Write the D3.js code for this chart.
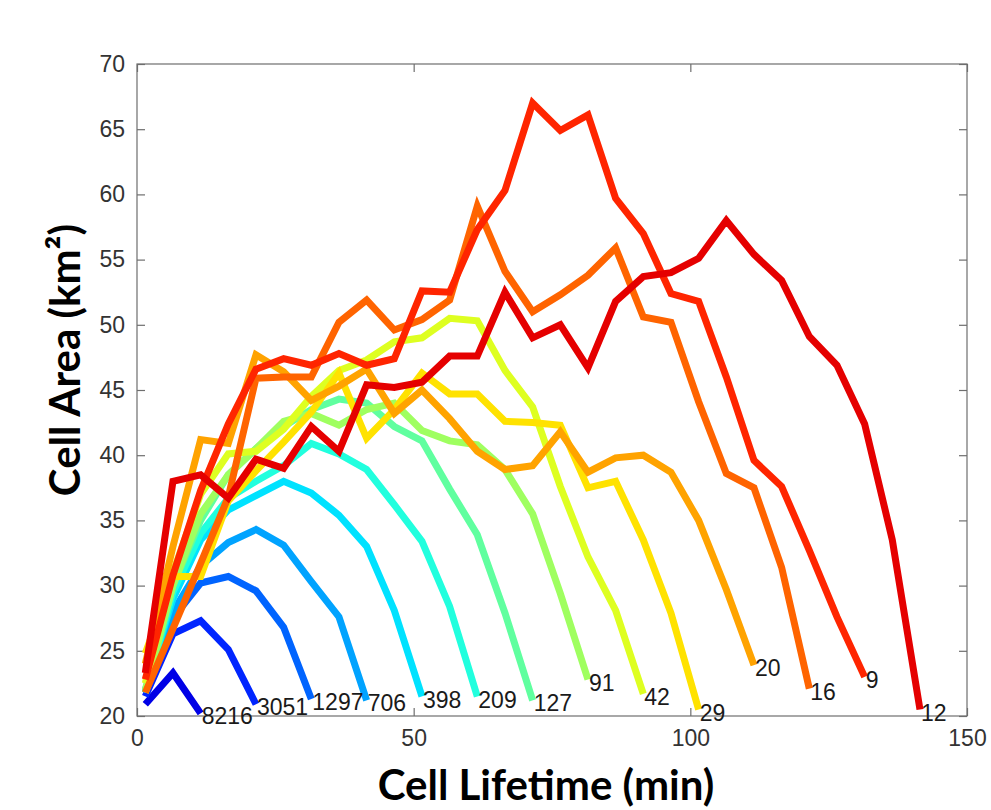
<!DOCTYPE html>
<html>
<head>
<meta charset="utf-8">
<script src="https://cdn.jsdelivr.net/npm/d3@7"></script>
<style>
  body { margin: 0; background: #fff; }
  svg { display: block; }
</style>
</head>
<body>
<div id="chart"></div>
<script>
// lifetimes (min) shared by all series; a series with n points uses the first n
const times = [1.5, 6.5, 11.5, 16.5, 21.5, 26.5, 31.5, 36.5, 41.5, 46.5, 51.5, 56.5, 61.5, 66.5, 71.5,
               76.5, 81.5, 86.5, 91.5, 96.5, 101.5, 106.5, 111.5, 116.5, 121.5, 126.5, 131.5, 136.5, 141.5];

// number of cells in each lifetime class (label at the end of each line)
const counts = ["8216", "3051", "1297", "706", "398", "209", "127", "91", "42", "29", "20", "16", "9", "12"];

// mean cell area (km²) per lifetime class
const area8216 = [20.9, 23.3, 20.2];
const area3051 = [21.5, 26.3, 27.3, 25.1, 20.9];
const area1297 = [21.8, 27.5, 30.2, 30.7, 29.6, 26.8, 21.3];
const area706 = [21.8, 28.0, 31.5, 33.3, 34.3, 33.1, 30.3, 27.6, 21.2];
const area398 = [22.0, 29.0, 33.5, 35.8, 36.9, 38.0, 37.1, 35.4, 33.0, 28.1, 21.5];
const area209 = [21.8, 29.5, 34.0, 36.7, 38.0, 39.2, 40.9, 40.1, 38.9, 36.2, 33.4, 28.4, 21.5];
const area127 = [21.8, 30.0, 35.0, 38.5, 40.5, 42.2, 43.5, 44.3, 44.0, 42.2, 41.1, 37.4, 33.9, 27.9, 21.2];
const area91 = [22.0, 30.0, 35.5, 38.5, 40.5, 42.6, 43.2, 42.3, 43.5, 44.0, 41.9, 41.1, 40.8, 38.9, 35.5, 29.4, 22.8];
const area42 = [22.5, 31.0, 37.0, 40.1, 40.3, 42.0, 44.5, 46.5, 47.3, 48.7, 49.0, 50.5, 50.3, 46.5, 43.7, 37.6, 32.2, 28.1, 21.7];
const area29 = [24.8, 30.7, 30.7, 36.5, 38.8, 41.0, 43.3, 46.3, 41.3, 43.5, 46.3, 44.7, 44.7, 42.6, 42.5, 42.3, 37.5, 38.0, 33.5, 27.9, 20.5];
const area20 = [24.0, 33.0, 41.2, 40.9, 47.7, 46.4, 44.2, 45.3, 46.6, 43.2, 45.0, 42.8, 40.3, 38.9, 39.2, 41.8, 38.7, 39.8, 40.0, 38.7, 35.0, 29.7, 23.9];
const area16 = [21.8, 26.7, 31.7, 36.8, 45.9, 46.0, 46.0, 50.2, 51.9, 49.6, 50.4, 51.9, 59.1, 54.1, 51.0, 52.3, 53.8, 55.9, 50.6, 50.2, 44.1, 38.6, 37.5, 31.4, 22.1];
const area9 = [22.8, 30.8, 37.3, 42.4, 46.6, 47.4, 46.9, 47.8, 46.9, 47.4, 52.6, 52.5, 57.3, 60.3, 67.0, 64.9, 66.1, 59.7, 57.0, 52.4, 51.8, 46.0, 39.6, 37.6, 32.7, 27.6, 23.0];
const area12 = [23.3, 38.0, 38.5, 36.7, 39.7, 39.0, 42.2, 40.3, 45.4, 45.2, 45.6, 47.6, 47.6, 52.5, 49.0, 50.0, 46.7, 51.8, 53.7, 54.0, 55.1, 58.0, 55.4, 53.4, 49.1, 46.9, 42.4, 33.5, 20.5];

const xTicks = [0, 50, 100, 150];
const yTicks = [20, 25, 30, 35, 40, 45, 50, 55, 60, 65, 70];

const areas = [area8216, area3051, area1297, area706, area398, area209, area127,
               area91, area42, area29, area20, area16, area9, area12];

// jet colours, blue -> dark red
const jet = v => {
    const c = f => Math.round(255 * Math.max(0, Math.min(1, f)));
    return d3.rgb(c(1.5 - Math.abs(4 * v - 3)), c(1.5 - Math.abs(4 * v - 2)), c(1.5 - Math.abs(4 * v - 1))).formatHex();
};
const colors = counts.map((d, i) => jet(0.1 + 0.8 * i / (counts.length - 1)));

const W = 991, H = 810;
const margin = {left: 137, right: 24, top: 64, bottom: 94};

const svg = d3.select("#chart").append("svg")
    .attr("width", W)
    .attr("height", H);

svg.append("rect").attr("width", W).attr("height", H).attr("fill", "#fff");

const x = d3.scaleLinear().domain([0, 150]).range([margin.left, W - margin.right]);
const y = d3.scaleLinear().domain([20, 70]).range([H - margin.bottom, margin.top]);

const axisColor = "#6e6e6e";
const tickFont = "Liberation Sans, Arial, sans-serif";

function styleAxis(g) {
    g.select(".domain").remove();
    g.selectAll(".tick line").attr("stroke", axisColor).attr("stroke-width", 1.2);
    g.selectAll(".tick text").attr("fill", "#333")
        .style("font-family", tickFont).style("font-size", "23px");
}

// bottom / left axes with inward ticks
svg.append("g")
    .attr("transform", `translate(0,${y(20)})`)
    .call(d3.axisBottom(x).tickValues(xTicks).tickSizeInner(-8).tickSizeOuter(0).tickPadding(14))
    .call(styleAxis);
svg.append("g")
    .attr("transform", `translate(${x(0)},0)`)
    .call(d3.axisLeft(y).tickValues(yTicks).tickSizeInner(-8).tickSizeOuter(0).tickPadding(12))
    .call(styleAxis);
// top / right ticks only
svg.append("g")
    .attr("transform", `translate(0,${y(70)})`)
    .call(d3.axisTop(x).tickValues(xTicks).tickSizeInner(-8).tickSizeOuter(0).tickFormat(""))
    .call(styleAxis);
svg.append("g")
    .attr("transform", `translate(${x(150)},0)`)
    .call(d3.axisRight(y).tickValues(yTicks).tickSizeInner(-8).tickSizeOuter(0).tickFormat(""))
    .call(styleAxis);

// box
svg.append("rect")
    .attr("x", x(0)).attr("y", y(70))
    .attr("width", x(150) - x(0)).attr("height", y(20) - y(70))
    .attr("fill", "none")
    .attr("stroke", axisColor)
    .attr("stroke-width", 1.2);

// lines
const line = d3.line()
    .x((d, i) => x(times[i]))
    .y(d => y(d));

svg.append("g")
    .selectAll("path")
    .data(areas)
    .enter()
    .append("path")
        .attr("d", d => line(d))
        .attr("fill", "none")
        .attr("stroke", (d, i) => colors[i])
        .attr("stroke-width", 7)
        .attr("stroke-linejoin", "miter");

// end labels
svg.append("g")
    .selectAll("text")
    .data(areas)
    .enter()
    .append("text")
        .attr("x", d => x(times[d.length - 1]) + 1)
        .attr("y", d => y(d[d.length - 1]) + 5)
        .attr("dominant-baseline", "middle")
        .style("font-family", tickFont)
        .style("font-size", "23px")
        .attr("fill", "#1a1a1a")
        .text((d, i) => counts[i]);

// axis titles
svg.append("text")
    .attr("x", (x(0) + x(150)) / 2 - 6)
    .attr("y", 800)
    .attr("text-anchor", "middle")
    .style("font-family", "Lato, sans-serif")
    .style("font-weight", 700)
    .style("font-size", "42px")
    .attr("fill", "#000")
    .text("Cell Lifetime (min)");

svg.append("text")
    .attr("transform", "translate(80,360) rotate(-90)")
    .attr("text-anchor", "middle")
    .style("font-family", "Lato, sans-serif")
    .style("font-weight", 700)
    .style("font-size", "42px")
    .attr("fill", "#000")
    .text("Cell Area (km²)");
</script>
</body>
</html>
